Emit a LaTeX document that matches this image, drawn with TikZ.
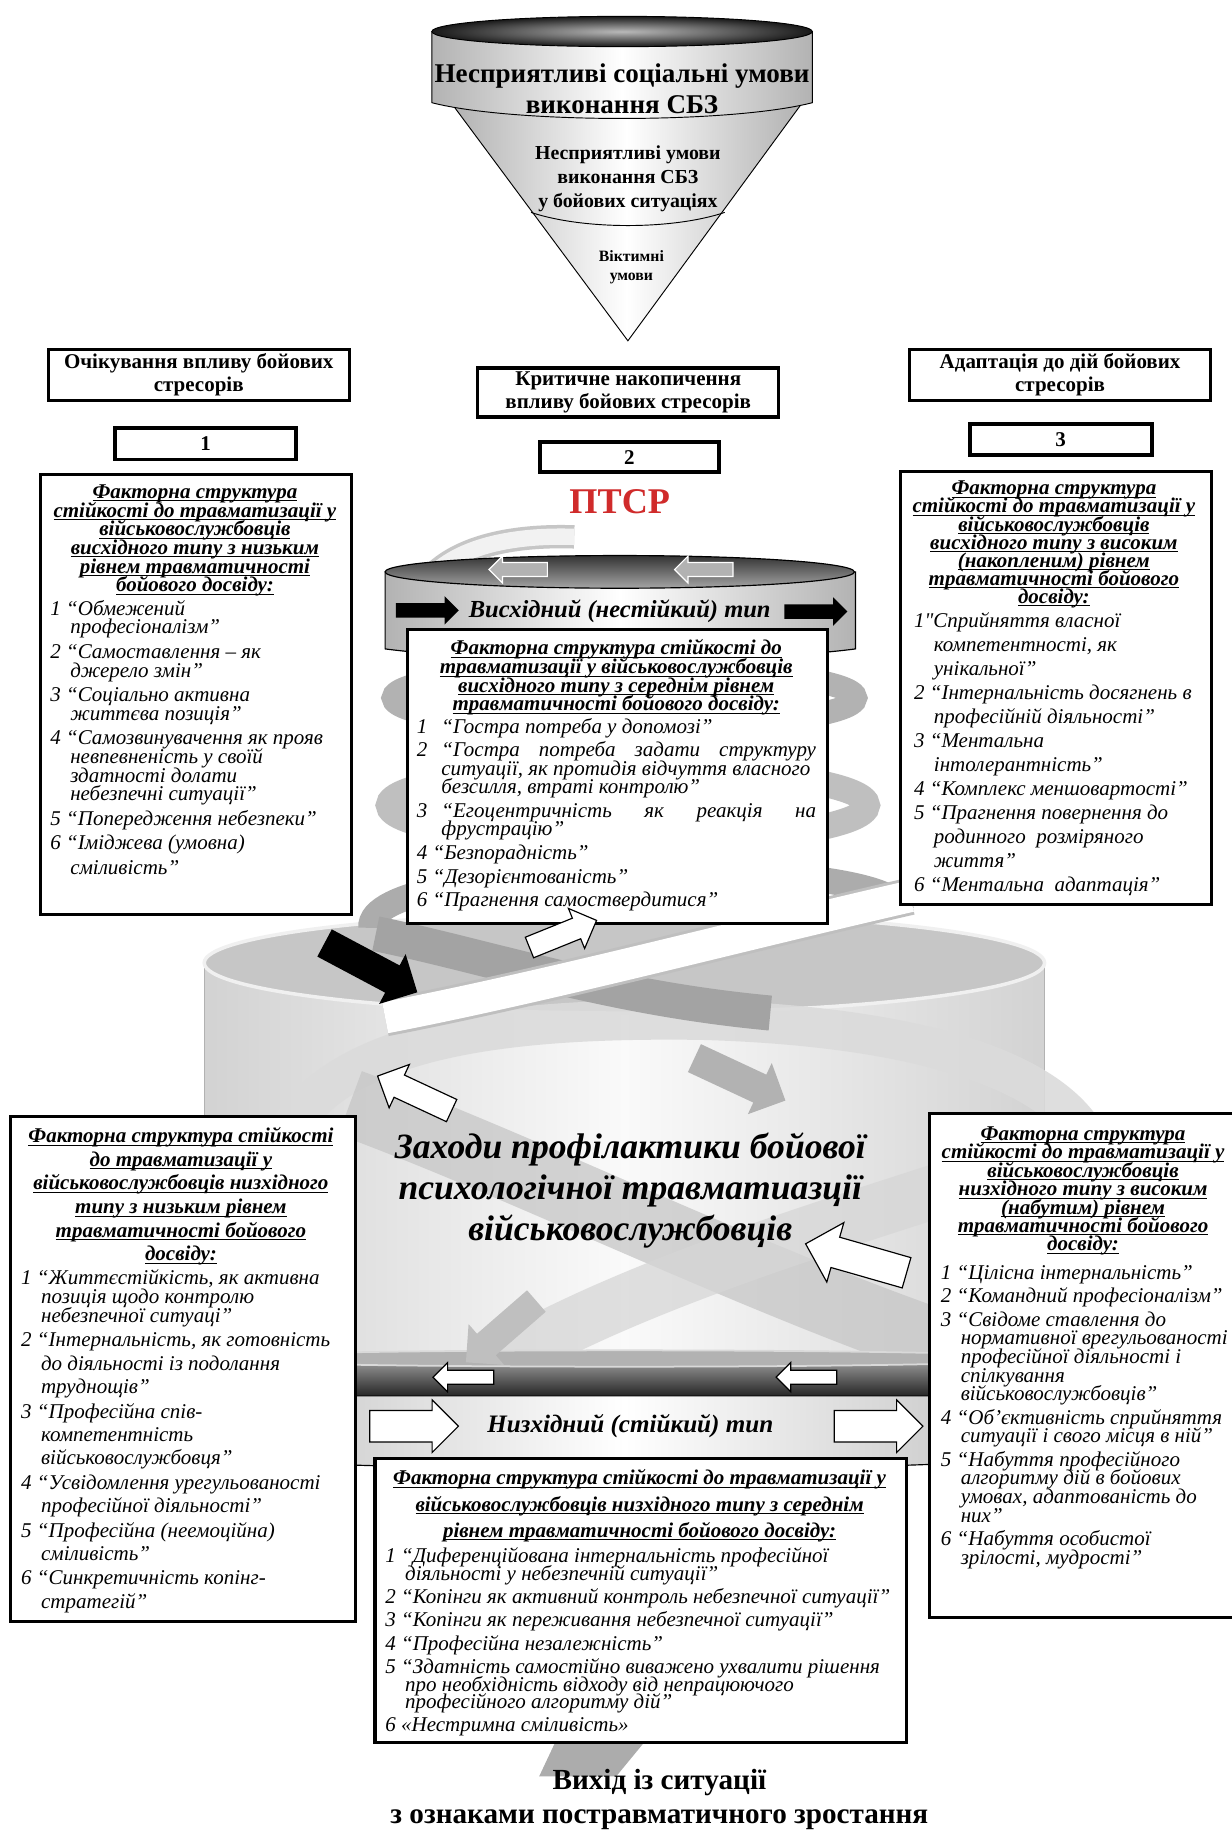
\documentclass[tikz,border=0pt]{standalone}
\usepackage{fontspec}
\setmainfont{Liberation Serif}
\usetikzlibrary{shapes.arrows}
\definecolor{ptsrred}{HTML}{D02B2B}
\newcommand\ind{\hspace*{17pt}}
\newcommand\fs[2]{\fontsize{#1}{#2}\selectfont\lineskiplimit=-50pt\lineskip=0pt\relax}
\newcommand\sq{{\addfontfeatures{Ligatures=TeXOff}"}}
\newsavebox\ulbox
\newcommand\uline[1]{\sbox\ulbox{#1}\rlap{\rule[-2.6pt]{\wd\ulbox}{0.9pt}}\usebox\ulbox}
\begin{document}
\begin{tikzpicture}[x=1pt,y=-1pt]
\tikzset{
  frame/.style={draw=black, line width=2.6pt, fill=white, inner sep=0pt, anchor=north west},
  numframe/.style={frame, line width=3.4pt},
  hdr/.style={inner sep=0pt, align=center, anchor=north, font=\fs{18}{16}\bfseries\itshape},
  itm/.style={inner sep=0pt, align=left, anchor=north west, font=\fs{18}{16}\itshape},
  toplbl/.style={inner sep=0pt, align=center, font=\fs{18}{20}\bfseries},
  sarr/.style={shape=single arrow, inner xsep=0pt, single arrow head indent=0pt},
  blk/.style={sarr, fill=black},
  hol/.style={sarr, fill=white, draw=black, line width=1pt},
  gry/.style={sarr, fill=gray!60},
  cylshade/.style={left color=gray!60, right color=gray!60, middle color=white},
  ribbon/.style={line width=#1, line cap=butt},
}
\fill[white] (0,0) rectangle (1055,1568);
\useasboundingbox (0,0) rectangle (1055,1568);

% ---------------- funnel
\path[draw, line width=0.8pt, cylshade] (388,90) -- (538,292) -- (686,90) -- cycle;
\draw[line width=0.8pt] (455,182) .. controls (500,197) and (576,197) .. (621,182);
\path[draw, line width=0.8pt, cylshade] (370,27) -- (370,88) .. controls (440,106) and (626,106) .. (696,88) -- (696,27) -- cycle;
\path[draw, line width=0.8pt, inner color=gray!55, outer color=black!90] (533,27) ellipse [x radius=163, y radius=13];
\node[inner sep=0pt, align=center, font=\fs{23.2}{26}\bfseries] (f1) at (533,76) {Несприятливі соціальні умови\\виконання СБЗ};
\node[inner sep=0pt, align=center, font=\fs{17}{20.5}\bfseries] (f2) at (538,153) {Несприятливі умови\\виконання СБЗ\\у бойових ситуаціях};
\node[inner sep=0pt, align=center, font=\fs{13.5}{17}\bfseries] (f3) at (541,229) {Віктимні\\умови};

% ---------------- big cylinder
\path[left color=gray!35, right color=gray!35, middle color=gray!4] (175,825) rectangle (895,1170);
\draw[gray!60, line width=0.8pt] (175,825) -- (175,1170) (895,825) -- (895,1170);
\path[fill=gray!45, draw=gray!12, line width=3pt] (535,825) ellipse [x radius=360, y radius=43];
% back coil of helix
\draw[ribbon=34pt, gray!28, opacity=0.9] (250,965) .. controls (300,885) and (450,872) .. (600,874) .. controls (750,878) and (880,905) .. (925,965);
% crossing coils
\draw[ribbon=58pt, gray!45, opacity=0.75] (300,945) .. controls (450,1000) and (650,1100) .. (830,1160);
\draw[ribbon=46pt, gray!32, opacity=0.75] (910,985) .. controls (750,1040) and (560,1090) .. (420,1172);
% coils around the top
\draw[ribbon=20pt, gray!60] (535,598) ellipse [x radius=198, y radius=26];
\draw[ribbon=22pt, gray!50] (538,690) ellipse [x radius=205, y radius=32];
\draw[ribbon=22pt, gray!65] (318,795) .. controls (312,732) and (770,732) .. (772,780);
% dark inner strip on the top surface
\draw[ribbon=30pt, gray!72] (322,800) .. controls (420,820) and (520,855) .. (660,868);
% white ribbon
\draw[ribbon=32pt, gray!50] (780,768) .. controls (640,800) and (470,845) .. (330,872);
\draw[ribbon=27pt, white] (780,768) .. controls (640,800) and (470,845) .. (330,872);

% ---------------- lower cylinder (низхідний)
\path[top color=gray!75, bottom color=black!85] (175,1164) rectangle (895,1196);
\path[fill=gray!60, draw=gray!30, line width=1.5pt] (535,1164) ellipse [x radius=360, y radius=7];
\path[draw=black, line width=1pt, left color=gray!50, right color=gray!50, middle color=white] (175,1196) -- (895,1196) -- (895,1250) .. controls (700,1262) and (400,1262) .. (175,1250) -- cycle;
\node[inner sep=0pt, font=\fs{21.5}{24}\bfseries\itshape] (low) at (540,1222) {Низхідний (стійкий) тип};

% ---------------- upper cylinder (висхідний)
\draw[ribbon=20pt, gray!45] (360,506) .. controls (380,472) and (430,458) .. (492,460);
\draw[ribbon=14pt, gray!10] (360,506) .. controls (380,472) and (430,458) .. (492,460);
\path[draw=black, line width=1pt, cylshade] (330,490) -- (330,556) .. controls (420,568) and (643,568) .. (733,556) -- (733,490) -- cycle;
\path[draw=black, line width=1pt, top color=black!80, bottom color=gray!70] (531,490) ellipse [x radius=201, y radius=14];
\node[inner sep=0pt, font=\fs{21}{24}\bfseries\itshape] (up) at (531,524) {Висхідний (нестійкий) тип};

% ---------------- exit ribbon piece
\fill[gray!65] (478,1488) -- (556,1488) -- (528,1522) -- (462,1522) -- cycle;

% ---------------- top label boxes
\node[frame, minimum width=258pt, minimum height=44pt] (B1) at (40,298) {};
\node[toplbl] (B1t) at (B1.center) {Очікування впливу бойових\\стресорів};
\node[frame, minimum width=258pt, minimum height=42pt] (B2) at (408,314) {};
\node[toplbl] (B2t) at (B2.center) {Критичне накопичення\\впливу бойових стресорів};
\node[frame, minimum width=258pt, minimum height=44pt] (B3) at (778,298) {};
\node[toplbl] (B3t) at (B3.center) {Адаптація до дій бойових\\стресорів};
\node[numframe, minimum width=155pt, minimum height=27pt] (N1) at (97,365) {};
\node[toplbl] (N1t) at (N1.center) {1};
\node[numframe, minimum width=153pt, minimum height=26pt] (N2) at (461,377) {};
\node[toplbl] (N2t) at (N2.center) {2};
\node[numframe, minimum width=156pt, minimum height=26pt] (N3) at (829,362) {};
\node[toplbl] (N3t) at (N3.center) {3};
\node[inner sep=0pt, text=ptsrred, font=\fs{31}{34}\bfseries] (ptsr) at (531,430) {ПТСР};

% ---------------- L1
\node[frame, minimum width=267pt, minimum height=377pt] (L1) at (33,405) {};
\node[hdr] (L1h) at (167,415) {\uline{Факторна структура}\\\uline{стійкості до травматизації у}\\\uline{військовослужбовців}\\\uline{висхідного типу з низьким}\\\uline{рівнем травматичності}\\\uline{бойового досвіду:}};
\node[itm] (L1i) at (43,514) {1 “Обмежений\\\ind професіоналізм”\\[5pt]
2 “Самоставлення – як\\\ind джерело змін”\\[5pt]
3 “Соціально активна\\\ind життєва позиція”\\[5pt]
4 “Самозвинувачення як прояв\\\ind невпевненість у своїй\\\ind здатності долати\\\ind небезпечні ситуації”\\[5pt]
5 “Попередження небезпеки”\\[5pt]
6 “Іміджева (умовна)\\[5pt]\ind сміливість”};

% ---------------- R1
\node[frame, minimum width=267pt, minimum height=371pt] (R1) at (770,403) {};
\node[hdr, font=\fs{18}{15.5}\bfseries\itshape] (R1h) at (903,412) {\uline{Факторна структура}\\\uline{стійкості до травматизації у}\\\uline{військовослужбовців}\\\uline{висхідного типу з високим}\\\uline{(накопленим) рівнем}\\\uline{травматичності бойового}\\\uline{досвіду:}};
\node[itm, font=\fs{18}{20.5}\itshape] (R1i) at (783,525) {1\sq Сприйняття власної\\\ind компетентності, як\\\ind унікальної”\\
2 “Інтернальність досягнень в\\\ind професійній діяльності”\\
3 “Ментальна\\\ind інтолерантність”\\
4 “Комплекс меншовартості”\\
5 “Прагнення повернення до\\\ind родинного\ \ розміряного\\\ind життя”\\
6 “Ментальна\ \ адаптація”};

% ---------------- M1
\node[frame, minimum width=360pt, minimum height=252pt] (M1) at (348,538) {};
\node[hdr] (M1h) at (528,548) {\uline{Факторна структура стійкості до}\\\uline{травматизації у військовослужбовців}\\\uline{висхідного типу з середнім рівнем}\\\uline{травматичності бойового досвіду:}};
\node[itm, font=\fs{18}{15.5}\itshape] (M1i) at (357,615) {1\hspace{12pt}“Гостра потреба у допомозі”\\[5pt]
2\hspace{12pt}\makebox[321pt][s]{“Гостра потреба задати структуру}\\\hspace{21pt}ситуації, як протидія відчуття власного\\\hspace{21pt}безсилля, втраті контролю”\\[5pt]
3\hspace{12pt}\makebox[321pt][s]{“Егоцентричність як реакція на}\\\hspace{21pt}фрустрацію”\\[5pt]
4 “Безпорадність”\\[5pt]
5 “Дезорієнтованість”\\[5pt]
6 “Прагнення самоствердитися”};

% ---------------- L2
\node[frame, minimum width=295pt, minimum height=433pt] (L2) at (8,955) {};
\node[hdr, font=\fs{18}{20.2}\bfseries\itshape] (L2h) at (155,966) {\uline{Факторна структура стійкості}\\\uline{до травматизації у}\\\uline{військовослужбовців низхідного}\\\uline{типу з низьким рівнем}\\\uline{травматичності бойового}\\\uline{досвіду:}};
\node[itm] (L2i) at (18,1088) {1 “Життєстійкість, як активна\\\ind позиція щодо контролю\\\ind небезпечної ситуаці”\\[5pt]
2 “Інтернальність, як готовність\\[4pt]\ind до діяльності із подолання\\[4pt]\ind труднощів”\\[5pt]
3 “Професійна спів-\\[4pt]\ind компетентність\\[4pt]\ind військовослужбовця”\\[5pt]
4 “Усвідомлення урегульованості\\[4pt]\ind професійної діяльності”\\[5pt]
5 “Професійна (неемоційна)\\[4pt]\ind сміливість”\\[5pt]
6 “Синкретичність копінг-\\[4pt]\ind стратегій”};

% ---------------- R2
\node[frame, minimum width=265pt, minimum height=432pt] (R2) at (795,953) {};
\node[hdr, font=\fs{18}{15.8}\bfseries\itshape] (R2h) at (928,965) {\uline{Факторна структура}\\\uline{стійкості до травматизації у}\\\uline{військовослужбовців}\\\uline{низхідного типу з високим}\\\uline{(набутим) рівнем}\\\uline{травматичності бойового}\\\uline{досвіду:}};
\node[itm] (R2i) at (806,1084) {1 “Цілісна інтернальність”\\[4pt]
2 “Командний професіоналізм”\\[4pt]
3 “Свідоме ставлення до\\\ind нормативної врегульованості\\\ind професійної діяльності і\\\ind спілкування\\\ind військовослужбовців”\\[4pt]
4 “Об’єктивність сприйняття\\\ind ситуації і свого місця в ній”\\[4pt]
5 “Набуття професійного\\\ind алгоритму дій в бойових\\\ind умовах, адаптованість до\\\ind них”\\[4pt]
6 “Набуття особистої\\\ind зрілості, мудрості”};

% ---------------- M2
\node[frame, minimum width=455pt, minimum height=244pt] (M2) at (320,1248) {};
\node[hdr, font=\fs{18}{22.5}\bfseries\itshape] (M2h) at (548,1259) {\uline{Факторна структура стійкості до травматизації у}\\\uline{військовослужбовців низхідного типу з середнім}\\\uline{рівнем травматичності бойового досвіду:}};
\node[itm, font=\fs{18}{15}\itshape] (M2i) at (330,1326) {1 “Диференційована інтернальність професійної\\\ind діяльності у небезпечній ситуації”\\[5pt]
2 “Копінги як активний контроль небезпечної ситуації”\\[5pt]
3 “Копінги як переживання небезпечної ситуації”\\[5pt]
4 “Професійна незалежність”\\[5pt]
5 “Здатність самостійно виважено ухвалити рішення\\\ind про необхідність відходу від непрацюючого\\\ind професійного алгоритму дій”\\[5pt]
6 «Нестримна сміливість»};

% ---------------- arrows
\node[blk, minimum height=54pt, inner ysep=6pt, single arrow head extend=6pt] (a13) at (363,523) {};
\node[blk, minimum height=54pt, inner ysep=6pt, single arrow head extend=6pt] (a14) at (696,524) {};
\node[gry, draw=white, line width=1pt, minimum height=50pt, inner ysep=5.5pt, single arrow head extend=5.5pt, rotate=180] (a11) at (447,488) {};
\node[gry, draw=white, line width=1pt, minimum height=50pt, inner ysep=5.5pt, single arrow head extend=5.5pt, rotate=180] (a12) at (606,488) {};
\node[blk, minimum height=90pt, inner ysep=13pt, single arrow head extend=11pt, rotate=-28] (a1) at (312,826) {};
\node[hol, minimum height=62pt, inner ysep=9pt, single arrow head extend=9pt, rotate=22] (a2) at (478,802) {};
\node[gry, minimum height=86pt, inner ysep=13pt, single arrow head extend=11pt, rotate=-25] (a3) at (628,922) {};
\node[hol, minimum height=70pt, inner ysep=10pt, single arrow head extend=10pt, rotate=155] (a4) at (360,939) {};
\node[hol, minimum height=90pt, inner ysep=13pt, single arrow head extend=13pt, rotate=164] (a5) at (740,1080) {};
\node[gry, fill=gray!50, minimum height=80pt, inner ysep=12pt, single arrow head extend=11pt, rotate=221] (a6) at (434,1137) {};
\node[hol, minimum height=52pt, inner ysep=5.5pt, single arrow head extend=6.5pt, rotate=180] (a7) at (400,1180) {};
\node[hol, minimum height=52pt, inner ysep=5.5pt, single arrow head extend=6.5pt, rotate=180] (a8) at (694,1180) {};
\node[hol, minimum height=76pt, inner ysep=13pt, single arrow head extend=9pt] (a9) at (348,1222) {};
\node[hol, minimum height=76pt, inner ysep=13pt, single arrow head extend=9pt] (a10) at (746,1222) {};

% ---------------- title
\node[inner sep=0pt, align=center, font=\fs{30.5}{35}\bfseries\itshape] (title) at (540,1020) {Заходи профілактики бойової\\психологічної травматиазції\\військовослужбовців};

% ---------------- exit
\node[inner sep=0pt, align=center, font=\fs{25}{29}\bfseries] (exit) at (565,1542) {Вихід із ситуації\\з ознаками постравматичного зростання};
\end{tikzpicture}
\end{document}
